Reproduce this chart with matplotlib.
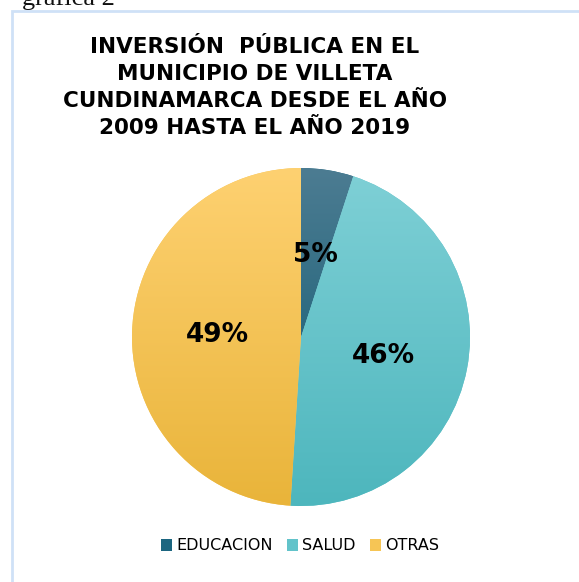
import numpy as np
import matplotlib.pyplot as plt
from matplotlib.colors import to_rgb
from matplotlib.patches import Rectangle

categories = ['EDUCACION', 'SALUD', 'OTRAS']
values = [5, 46, 49]
labels = ['5%', '46%', '49%']
top_colors = ['#4c7c92', '#7fd0d6', '#fed171']
bottom_colors = ['#09566d', '#4db6bd', '#e9b43a']
mid_colors = ['#1c6680', '#62c3ca', '#f6c555']

W, H = 579, 582
fig = plt.figure(figsize=(W / 100, H / 100), dpi=100)
fig.patch.set_facecolor('white')

# caption cut off at the top of the page (as in the source document)
fig.text(22 / W, 1 - 5 / H, 'gráfica 2', fontsize=19, family='Liberation Serif',
         ha='left', va='baseline', color='#111111')

# chart border
fig.add_artist(Rectangle((12 / W, -0.05), 1.1, 1 - 11 / H + 0.05, transform=fig.transFigure,
                         fill=False, edgecolor='#cfe1f7', linewidth=2))

fig.text(255 / W, 1 - 87.5 / H,
         'INVERSIÓN  PÚBLICA EN EL\nMUNICIPIO DE VILLETA\nCUNDINAMARCA DESDE EL AÑO\n2009 HASTA EL AÑO 2019',
         ha='center', va='center', fontsize=15.5, fontweight='bold', linespacing=1.45,
         family='DejaVu Sans')

cx, cy, r = 301, 337, 169
ax = fig.add_axes([(cx - r) / W, 1 - (cy + r) / H, 2 * r / W, 2 * r / H])
wedges, _ = ax.pie(values, colors=mid_colors, startangle=90, counterclock=False,
                   radius=1, wedgeprops=dict(linewidth=0))

# vertical gradient fill inside each slice
t = np.linspace(0, 1, 256)[:, None]
for w, c0, c1 in zip(wedges, top_colors, bottom_colors):
    a = np.array(to_rgb(c0))
    b = np.array(to_rgb(c1))
    grad = (a * (1 - t) + b * t)[:, None, :]
    im = ax.imshow(grad, extent=(-1, 1, -1, 1), aspect='auto', origin='upper', zorder=2)
    im.set_clip_path(w)

label_pos = [(315, 255), (383, 356), (217, 335)]
for lab, (lx, ly) in zip(labels, label_pos):
    ax.text((lx - cx) / r, -(ly - cy) / r, lab, ha='center', va='center',
            fontsize=19, fontweight='bold', color='black', zorder=5)
ax.set_xlim(-1, 1)
ax.set_ylim(-1, 1)
ax.set_aspect('equal')
ax.axis('off')

handles = [Rectangle((0, 0), 1, 1, facecolor=c) for c in mid_colors]
fig.legend(handles, categories, loc='center', bbox_to_anchor=(300 / W, 1 - 546 / H),
           ncol=3, frameon=False, fontsize=11.5, handlelength=0.7, handleheight=0.7,
           handletextpad=0.25, columnspacing=0.9)

fig.savefig('out.png', dpi=100)
